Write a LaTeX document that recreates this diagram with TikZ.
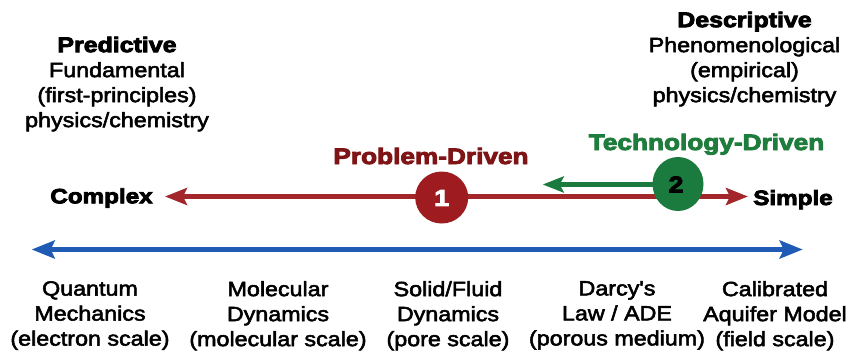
\documentclass[tikz,border=0pt]{standalone}
\usepackage{fontspec}
\setmainfont{Liberation Sans}
\newfontfamily\bodyf{Liberation Sans}[FakeStretch=1.13,FakeBold=2.6]
\newfontfamily\heavyf{Liberation Sans Bold}[FakeStretch=1.17,FakeBold=4]
\newcommand\hdfont{\heavyf\fontsize{21.3}{25}\selectfont}
\usetikzlibrary{arrows.meta}
\definecolor{redarrow}{HTML}{A3262A}
\definecolor{redcirc}{HTML}{9E1B20}
\definecolor{redtext}{HTML}{7F1416}
\definecolor{greenc}{HTML}{1B7A3E}
\definecolor{greentext}{HTML}{1E7C3C}
\definecolor{bluearrow}{HTML}{1F5BB5}
\begin{document}
\begin{tikzpicture}[x=1pt,y=-1pt,
  body/.style={align=center,inner sep=0pt,anchor=north,font=\bodyf\fontsize{20.6}{25}\selectfont},
  endlabel/.style={inner sep=0pt,anchor=base,font=\heavyf\fontsize{20.7}{24}\selectfont},
  drivelabel/.style={inner sep=0pt,anchor=base,font=\heavyf\fontsize{22.4}{24}\selectfont},
  numlabel/.style={inner sep=0pt,font=\heavyf\fontsize{23}{24}\selectfont},
  redarr/.style={draw=redarrow,line width=4.5pt,{Stealth[length=22pt,width=17pt,inset=4pt]}-{Stealth[length=22pt,width=17pt,inset=4pt]}},
  bluearr/.style={draw=bluearrow,line width=4.5pt,{Stealth[length=23pt,width=18pt,inset=4pt]}-{Stealth[length=23pt,width=18pt,inset=4pt]}},
  greenarr/.style={draw=greenc,line width=5pt,-{Stealth[length=21pt,width=16pt,inset=4pt]}}
]
\useasboundingbox[fill=white] (0,0) rectangle (851,354);

% top blocks
\node[body] (pred) at (117,36.5) {{\hdfont Predictive}\\Fundamental\\(first-principles)\\physics/chemistry};
\node[body] (desc) at (744.5,11.5) {{\hdfont Descriptive}\\Phenomenological\\(empirical)\\physics/chemistry};

% drive labels
\node[drivelabel,text=redtext] (prob) at (431,164) {Problem-Driven};
\node[drivelabel,text=greentext] (tech) at (706.5,150) {Technology-Driven};

% end labels
\node[endlabel] (complex) at (101.5,203.3) {Complex};
\node[endlabel] (simple) at (793,205) {Simple};

% arrows
\coordinate (rl) at (165,196.5);
\coordinate (rr) at (748,196.5);
\draw[redarr] (rl) -- (rr);
\coordinate (bl) at (31.7,249.5);
\coordinate (br) at (802.7,249.5);
\draw[bluearr] (bl) -- (br);
\coordinate (gs) at (668,184.5);
\coordinate (gt) at (542.7,184.5);
\draw[greenarr] (gs) -- (gt);

% circles
\fill[redcirc] (441.7,197.5) ellipse[x radius=26.5pt,y radius=26pt];
\node[numlabel,text=white] (one) at (441.7,198) {1};
\fill[greenc] (678,184) ellipse[x radius=25.5pt,y radius=27pt];
\node[numlabel,text=black] (two) at (676,184.5) {2};

% bottom labels
\node[body] (qm) at (90,281) {Quantum\\Mechanics\\(electron scale)};
\node[body] (md) at (278,281) {Molecular\\Dynamics\\(molecular scale)};
\node[body] (sf) at (448,281) {Solid/Fluid\\Dynamics\\(pore scale)};
\node[body] (dl) at (617,281) {Darcy's\\Law / ADE\\(porous medium)};
\node[body] (ca) at (775,281) {Calibrated\\Aquifer Model\\(field scale)};
\end{tikzpicture}
\end{document}
